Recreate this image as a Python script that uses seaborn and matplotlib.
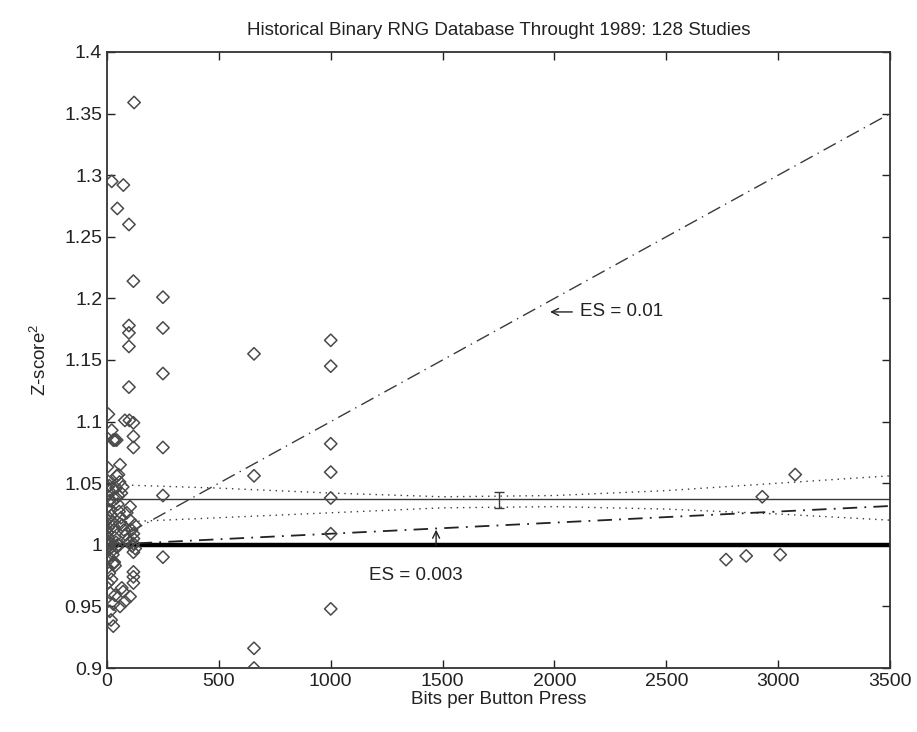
import pandas as pd
import seaborn as sns
import matplotlib.pyplot as plt

# Effect-size reference lines (Z^2 = 1 + N*ES^2)
es_x = [0, 3500]
es01_y = [1.0, 1.35]
es003_y = [1.0, 1.0315]
chance_y = 1.0
mean_z2 = 1.037

# confidence band
band_x = [0, 500, 1000, 1500, 2000, 2500, 3000, 3500]
band_upper = [1.049, 1.046, 1.042, 1.039, 1.040, 1.044, 1.050, 1.056]
band_lower = [1.018, 1.022, 1.026, 1.030, 1.031, 1.029, 1.025, 1.020]

err_x = [1750]
err_y = [1.0365]
err_half = [0.0065]

# studies: bits per button press vs Z^2
bits = [
    1000, 1000, 1000, 1000, 1000, 1000, 1000,
    657, 657, 657, 657,
    250, 250, 250, 250, 250, 250,
    2767, 2857, 3009, 2929, 3076,
    121, 118, 118, 118, 118, 118, 118, 118, 118, 118, 118, 118,
    98, 98, 98, 98, 98, 100, 103, 103, 103, 100,
    73, 80, 88, 80,
    46, 35, 43, 58, 51, 40, 50, 58, 58, 36, 50, 45,
    21, 6, 21, 28, 1, 2, 10, 4, 0, 0, 28, 3, 6, 2, 5, 8,
    0, 28, 13, 10, 4, 14, 18, 8, 22, 30,
    2, 8, 12, 16, 20, 24, 30, 34, 40, 4, 8, 14, 18, 22, 26, 32, 36, 42, 48,
    54, 62, 68, 76, 84, 92, 64, 70, 56, 44, 110, 124, 112, 126, 66, 72, 20, 28, 6,
]
z2 = [
    1.166, 1.145, 1.082, 1.059, 1.038, 1.009, 0.948,
    1.155, 1.056, 0.916, 0.900,
    1.201, 1.176, 1.139, 1.079, 1.040, 0.990,
    0.988, 0.991, 0.992, 1.039, 1.057,
    1.359, 1.214, 1.099, 1.088, 1.079, 1.009, 1.005, 0.994, 0.978, 0.974, 0.969, 1.001,
    1.260, 1.178, 1.172, 1.161, 1.128, 1.101, 1.031, 1.020, 0.958, 1.002,
    1.292, 1.101, 1.026, 0.954,
    1.273, 1.085, 1.085, 1.065, 1.057, 1.046, 1.040, 1.017, 0.950, 0.959, 1.000, 0.998,
    1.295, 1.106, 1.093, 1.085, 1.063, 1.047, 1.048, 1.040, 1.030, 1.020, 1.015, 1.010, 1.005, 1.000, 0.996, 0.990,
    0.981, 0.934, 0.946, 0.977, 0.969, 0.961, 0.939, 1.022, 1.035, 0.985,
    1.052, 1.044, 1.036, 1.028, 1.024, 1.018, 1.012, 1.006, 1.002, 1.003, 0.999, 0.997, 1.001, 0.995, 0.992, 0.986, 0.983, 1.038, 1.033,
    1.027, 1.022, 1.016, 1.012, 1.008, 1.004, 1.042, 1.047, 1.051, 1.056, 1.012, 1.016, 0.999, 0.997, 0.965, 0.962, 0.972, 0.952, 1.014,
]

df = pd.DataFrame({'bits': bits, 'z2': z2})
band = pd.DataFrame({'x': band_x, 'upper': band_upper, 'lower': band_lower})

sns.set_style('ticks')
plt.rcParams['font.family'] = ['Liberation Sans', 'DejaVu Sans']
plt.rcParams['mathtext.fontset'] = 'custom'
plt.rcParams['mathtext.rm'] = 'Liberation Sans'
plt.rcParams['mathtext.it'] = 'Liberation Sans'

fig = plt.figure(figsize=(9.17, 7.32), dpi=100)
ax = fig.add_axes([0.1167, 0.0874, 0.8539, 0.8416])

dk = '#3a3a3a'
sns.scatterplot(data=df, x='bits', y='z2', marker='D', s=40, facecolor='none',
                edgecolor='#4a4a4a', linewidth=1.1, ax=ax, zorder=3)

ax.plot(es_x, [chance_y, chance_y], color='black', lw=3.2, zorder=2)
ax.plot(es_x, [mean_z2, mean_z2], color=dk, lw=1.0, zorder=2)
sns.lineplot(data=band, x='x', y='upper', color=dk, lw=1.0, ax=ax, zorder=2)
sns.lineplot(data=band, x='x', y='lower', color=dk, lw=1.0, ax=ax, zorder=2)
for l in ax.lines[-2:]:
    l.set_linestyle((0, (1, 3.5)))
ax.plot(es_x, es01_y, color=dk, lw=1.0, dashes=(10, 4, 1, 4), zorder=2)
ax.plot(es_x, es003_y, color='#222222', lw=1.3, dashes=(8, 4, 1, 4), zorder=2)
ax.errorbar(err_x, err_y, yerr=err_half, fmt='none', ecolor=dk, elinewidth=1.0,
            capsize=3.5, capthick=1.0, zorder=4)

# labels for the effect-size lines
ax.annotate('', xy=(1968, 1.189), xytext=(2092, 1.189),
            arrowprops=dict(arrowstyle='->,head_length=0.5,head_width=0.25',
                            color='#222222', lw=1.0))
ax.text(2115, 1.189, 'ES = 0.01', fontsize=13.5, va='center', ha='left', color='#222222')
ax.text(1381, 0.975, 'ES = 0.003', fontsize=13.5, va='center', ha='center', color='#222222')
ax.annotate('', xy=(1471, 1.0145), xytext=(1471, 0.997),
            arrowprops=dict(arrowstyle='->,head_length=0.5,head_width=0.25',
                            color='#222222', lw=1.0))

ax.set_xlim(0, 3500)
ax.set_ylim(0.9, 1.4)
ax.set_xticks(range(0, 3501, 500))
yt = [0.9 + 0.05 * i for i in range(11)]
ax.set_yticks(yt)
ax.set_yticklabels([f'{v:.2f}'.rstrip('0').rstrip('.') for v in yt])
ax.tick_params(direction='in', length=6, width=1, top=True, right=True,
               labelsize=14, colors='#222222')
for sp in ax.spines.values():
    sp.set_visible(True)
    sp.set_linewidth(1.3)
    sp.set_color('#333333')

ax.set_title('Historical Binary RNG Database Throught 1989: 128 Studies',
             fontsize=13.5, pad=12, color='#222222')
ax.set_xlabel('Bits per Button Press', fontsize=13.5, labelpad=1, color='#222222')
ax.set_ylabel('Z-score$^2$', fontsize=13.5, labelpad=10, color='#222222')

plt.savefig('out.png', dpi=100)
